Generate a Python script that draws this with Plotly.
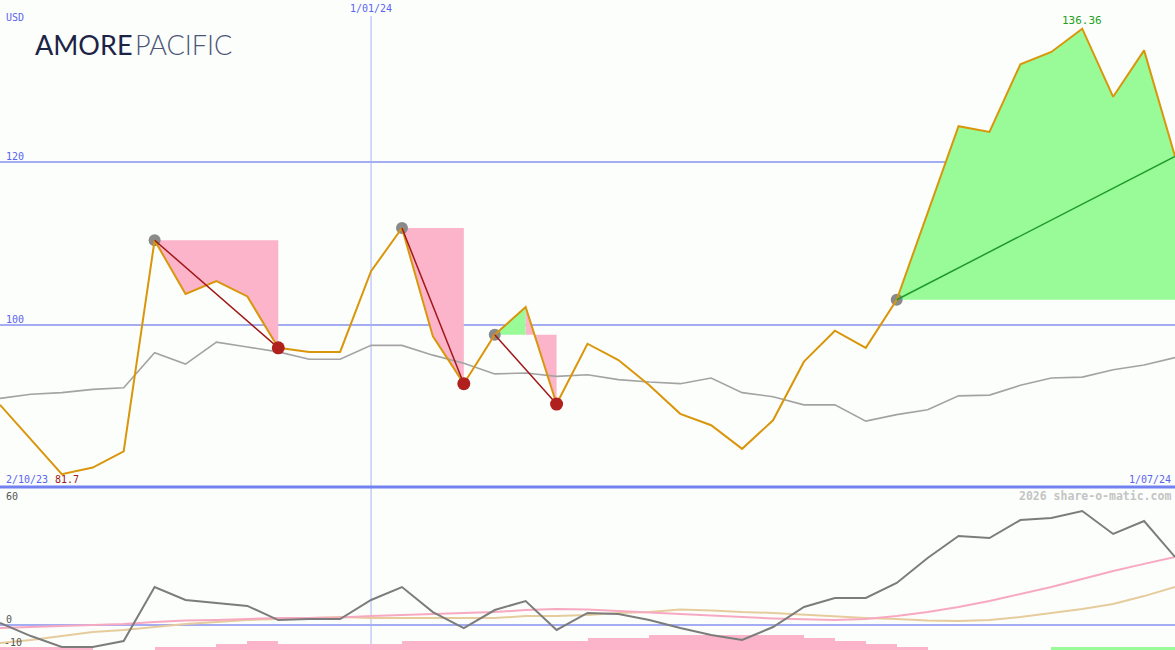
import plotly.graph_objects as go

# ---------------- data ----------------
idx = list(range(39))
date_labels = {"start": "2/10/23", "mid": "1/01/24", "end": "1/07/24"}
mid_index = 12

price = [90.2, 85.9, 81.7, 82.5, 84.5, 110.4, 103.8, 105.4, 103.5, 97.2,
         96.7, 96.7, 106.6, 111.9, 98.6, 92.8, 98.8, 102.2, 90.3, 97.7,
         95.7, 92.6, 89.1, 87.7, 84.8, 88.3, 95.5, 99.3, 97.2, 103.1,
         113.7, 124.4, 123.7, 132.0, 133.5, 136.36, 128.0, 133.7, 120.7]

avg_line = [91.0, 91.5, 91.7, 92.1, 92.3, 96.6, 95.2, 97.9, 97.3, 96.7,
            95.8, 95.8, 97.5, 97.5, 96.3, 95.3, 94.0, 94.1, 93.7, 93.9,
            93.3, 93.0, 92.8, 93.5, 91.7, 91.2, 90.2, 90.2, 88.2, 89.0,
            89.6, 91.3, 91.4, 92.6, 93.5, 93.6, 94.5, 95.1, 96.0]

momentum = [1.0, -5.4, -10.7, -10.7, -7.8, 18.5, 12.2, 10.7, 9.3, 2.4,
            2.9, 2.9, 12.2, 18.5, 6.3, -1.5, 7.3, 11.7, -2.4, 5.9,
            5.4, 2.4, -1.5, -4.9, -7.3, -1.0, 8.8, 13.2, 13.2, 20.5,
            32.7, 43.4, 42.4, 51.2, 52.2, 55.6, 44.4, 50.7, 33.2]

slow_pink = [-1.5, -1.0, -0.5, 0.0, 0.5, 1.5, 2.2, 2.4, 2.9, 3.4,
             3.4, 3.7, 4.4, 4.9, 5.4, 5.9, 6.3, 7.3, 7.8, 7.6,
             6.8, 6.3, 5.4, 4.4, 3.9, 3.2, 2.7, 2.4, 2.9, 4.4,
             6.3, 8.8, 11.7, 15.1, 18.5, 22.4, 26.3, 29.8, 33.2]

slow_tan = [-8.8, -7.3, -5.4, -3.4, -2.4, -1.0, 0.5, 1.5, 2.4, 2.9,
            3.4, 3.9, 3.4, 3.4, 3.4, 3.4, 3.4, 4.4, 4.4, 4.9,
            5.9, 6.3, 7.6, 7.1, 6.3, 5.9, 5.1, 4.1, 3.4, 2.9,
            2.2, 2.0, 2.4, 3.9, 5.9, 7.8, 10.2, 14.1, 18.5]

# histogram strip at the bottom of the lower panel (height above panel floor)
hist_vals = [1.3, 1.3, 1.3, 0.0, 0.0, 1.3, 1.3, 2.9, 4.2, 2.9,
             2.9, 2.9, 2.9, 4.5, 4.5, 4.5, 4.5, 4.5, 4.5, 5.9,
             5.9, 7.5, 7.5, 7.5, 7.5, 7.5, 5.9, 4.5, 2.9, 1.5,
             0.0, 0.0, 0.0, 0.0, 1.5, 1.5, 1.5, 1.5]
hist_sign = [-1] * 34 + [1] * 4

swing_start = [5, 13, 16, 29]
swing_end = [9, 15, 18, 38]
swing_end_marked = [True, True, True, False]

max_label = "136.36"
min_label = "81.7"

# ---------------- styling ----------------
BG = "#fcfefc"
ORANGE = "#d9960a"
PINK = "#fbb4c9"
GREEN = "#98fb98"
BLUE_GRID = "#a4acf2"
BLUE_TXT = "#5a64f0"
MONO = "DejaVu Sans Mono"

Y1 = [80.12, 139.88]
Y2 = [-12.2, 66.34]
X = [0, 38]
top_dom = [1 - 487 / 650, 1]
bot_dom = [0, 1 - 489 / 650]

fig = go.Figure()

# swing fills (between price and start level)
for s, e in zip(swing_start, swing_end):
    level = price[s]
    segs = []
    for k in range(s, e):
        col = GREEN if price[k + 1] > level else PINK
        if segs and segs[-1][2] == col:
            segs[-1][1] = k + 1
        else:
            segs.append([k, k + 1, col])
    for a, b, col in segs:
        xs = [a] + list(range(a, b + 1)) + [b, a]
        ys = [level] + price[a:b + 1] + [level, level]
        fig.add_trace(go.Scatter(x=xs, y=ys, fill="toself", fillcolor=col,
                                 line=dict(width=0), mode="lines",
                                 hoverinfo="skip", showlegend=False))

# average line
fig.add_trace(go.Scatter(x=idx, y=avg_line, mode="lines",
                         line=dict(color="#a3a3a3", width=1.6),
                         showlegend=False))

# swing start markers (behind price)
fig.add_trace(go.Scatter(x=swing_start, y=[price[i] for i in swing_start],
                         mode="markers",
                         marker=dict(color="#8a8a8a", size=12, line=dict(width=0)),
                         showlegend=False))

# price line
fig.add_trace(go.Scatter(x=idx, y=price, mode="lines",
                         line=dict(color=ORANGE, width=2),
                         showlegend=False))

# diagonals
for s, e, m in zip(swing_start, swing_end, swing_end_marked):
    col = "#a01818" if price[e] < price[s] else "#1f9a2a"
    fig.add_trace(go.Scatter(x=[s, e], y=[price[s], price[e]], mode="lines",
                             line=dict(color=col, width=1.5),
                             showlegend=False))

ends = [e for e, m in zip(swing_end, swing_end_marked) if m]
fig.add_trace(go.Scatter(x=ends, y=[price[i] for i in ends], mode="markers",
                         marker=dict(color="#b0201c", size=13, line=dict(width=0)),
                         showlegend=False))

# ---------------- lower panel ----------------
fig.add_trace(go.Bar(x=[i + 0.5 for i in range(len(hist_vals))],
                     y=hist_vals, base=Y2[0], width=1.0,
                     marker=dict(color=[PINK if sgn < 0 else GREEN for sgn in hist_sign],
                                 line=dict(width=0)),
                     yaxis="y2", showlegend=False))

fig.add_trace(go.Scatter(x=idx, y=slow_tan, mode="lines", yaxis="y2",
                         line=dict(color="#e6cc9c", width=2), showlegend=False))
fig.add_trace(go.Scatter(x=idx, y=slow_pink, mode="lines", yaxis="y2",
                         line=dict(color="#f7a9c2", width=2), showlegend=False))
fig.add_trace(go.Scatter(x=idx, y=momentum, mode="lines", yaxis="y2",
                         line=dict(color="#7c7c7c", width=2), showlegend=False))

# ---------------- shapes ----------------
shapes = []
for lv in (120, 100):
    shapes.append(dict(type="line", xref="paper", x0=0, x1=1, yref="y", y0=lv, y1=lv,
                       line=dict(color=BLUE_GRID, width=2), layer="below"))
shapes.append(dict(type="line", xref="paper", x0=0, x1=1, yref="y2", y0=0, y1=0,
                   line=dict(color=BLUE_GRID, width=2), layer="below"))
shapes.append(dict(type="line", xref="x", x0=mid_index, x1=mid_index, yref="paper",
                   y0=0, y1=1 - 16 / 650, line=dict(color="#aab2f4", width=1), layer="below"))
shapes.append(dict(type="line", xref="paper", x0=0, x1=1, yref="paper",
                   y0=1 - 487 / 650, y1=1 - 487 / 650,
                   line=dict(color="#7282f0", width=3)))

# ---------------- annotations ----------------
def ann(text, x, y, xref="paper", yref="paper", xanchor="left", yanchor="middle",
        color=BLUE_TXT, size=10, family=MONO, xshift=0, yshift=0, weight=None):
    f = dict(color=color, size=size, family=family)
    if weight is not None:
        f["weight"] = weight
    return dict(text=text, x=x, y=y, xref=xref, yref=yref, xanchor=xanchor,
                yanchor=yanchor, showarrow=False, font=f, xshift=xshift,
                yshift=yshift, borderpad=0)

annotations = [
    ann("USD", 0, 1 - 18 / 650, xshift=5),
    ann(date_labels["mid"], mid_index, 1 - 9 / 650, xref="x", xanchor="center"),
    ann("120", 0, 120, yref="y", yanchor="bottom", xshift=5, yshift=-1),
    ann("100", 0, 100, yref="y", yanchor="bottom", xshift=5, yshift=-1),
    ann(date_labels["start"], 0, 1 - 479 / 650, xshift=5),
    ann(min_label, 0, 1 - 479 / 650, xshift=54, color="#a01818"),
    ann(date_labels["end"], 1, 1 - 479 / 650, xanchor="right", xshift=-3),
    ann("2026 share-o-matic.com", 1, 1 - 496 / 650, xanchor="right", xshift=-3,
        color="#c4c4c4", size=11.5, weight="bold"),
    ann("60", 0, 1 - 496 / 650, xshift=5, color="#555555"),
    ann("0", 0, 1 - 619 / 650, xshift=5, color="#555555"),
    ann("-10", 0, 1 - 642 / 650, xshift=3, color="#555555"),
    ann(max_label, price.index(max(price)), 1 - 21 / 650, xref="x", xanchor="center",
        color="#23a023", size=11),
    ann("AMORE", 0, 1 - 45 / 650, xshift=34, color="#1c2446", size=27,
        family="Lato", weight=400),
    ann("PACIFIC", 0, 1 - 45 / 650, xshift=134, color="#4e5578", size=27,
        family="Lato", weight=300),
]

fig.update_layout(
    width=1175, height=650,
    margin=dict(l=0, r=0, t=0, b=0),
    paper_bgcolor=BG, plot_bgcolor=BG,
    showlegend=False,
    bargap=0,
    hovermode=False,
    xaxis=dict(range=X, domain=[0, 1], showgrid=False, zeroline=False,
               showticklabels=False, showline=False, fixedrange=True),
    yaxis=dict(range=Y1, domain=top_dom, showgrid=False, zeroline=False,
               showticklabels=False, showline=False, anchor="x"),
    yaxis2=dict(range=Y2, domain=bot_dom, showgrid=False, zeroline=False,
                showticklabels=False, showline=False, anchor="x"),
    shapes=shapes,
    annotations=annotations,
)

fig.write_html("out.html",
               config={"displayModeBar": False, "staticPlot": True},
               post_script="document.body.style.margin='0';"
                           "document.body.style.overflow='hidden';"
                           "document.documentElement.style.overflow='hidden';")
